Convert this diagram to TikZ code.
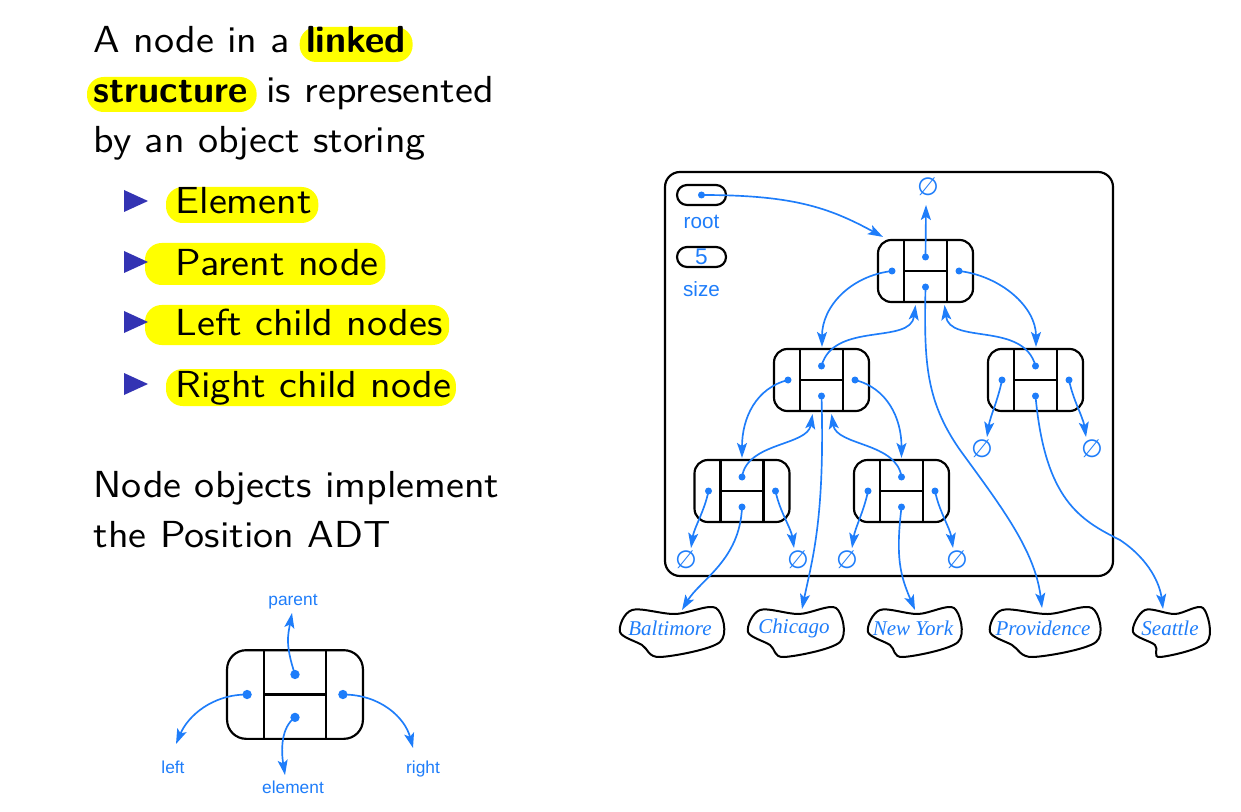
\documentclass[tikz,border=0pt]{standalone}
\usepackage{fontspec}
\usetikzlibrary{arrows.meta,calc,shapes.misc,backgrounds}
\setsansfont{Latin Modern Sans}[FakeStretch=1.09]
\newfontfamily\plainsans{Latin Modern Sans}
\newfontfamily\labelfont{Liberation Sans}
\newfontfamily\cityfont{Liberation Serif}
\newfontfamily\symfont{DejaVu Sans}
\definecolor{linkblue}{RGB}{30,125,250}
\definecolor{itemblue}{RGB}{51,51,179}
\definecolor{hilite}{RGB}{255,255,0}
\newcommand\mainsize{\sffamily\fontsize{11.3}{13.6}\selectfont}
\newcommand\boldsize{\plainsans\bfseries\fontsize{11.3}{13.6}\selectfont}

% one position object: box with parent / element / left / right fields
\newcommand\posbox[4]{% name, x, y, scale
  \begin{scope}[shift={(#2,#3)}, scale=#4]
    \node[boxshape, minimum width=#4*28.5pt, minimum height=#4*18.6pt,
          rounded corners=#4*4pt] (#1) at (0,0) {};
    \draw[boxline] (-21.5,-31) -- (-21.5,31) (21.5,-31) -- (21.5,31)
                   (-21.5,0) -- (21.5,0);
    \coordinate (#1-p) at (0,-14);
    \coordinate (#1-e) at (0,16);
    \coordinate (#1-l) at (-33.5,0);
    \coordinate (#1-r) at (33.5,0);
  \end{scope}}
\newcommand\posdots[2]{% name, dot radius
  \foreach \f in {p,e,l,r} \fill[linkblue] (#1-\f) circle[radius=#2];}

% a city element drawn as a rough blob around its name
\newcommand\city[4]{% name, x, half width, text
  \node[citytext] (#1) at (#2,628) {#4};
  \draw[blob] plot[smooth cycle, tension=0.55] coordinates {
    (#2-#3+12,610) (#2+5,614) (#2+#3-4,608) (#2+#3,642)
    (#2-10,657) (#2-#3+22,645) (#2-#3,632)};}

\begin{document}
\begin{tikzpicture}[x=0.3pt, y=-0.3pt,
  main/.style={anchor=base west, inner sep=0pt, font=\mainsize},
  hl/.style={fill=hilite, rounded corners=5pt},
  boxshape/.style={draw, line width=0.65pt, inner sep=0pt},
  boxline/.style={line width=0.65pt},
  pill/.style={draw, rounded rectangle, line width=0.65pt, inner sep=0pt,
    minimum width=14.7pt, minimum height=6pt, text=linkblue,
    font=\labelfont\fontsize{6.8}{7}\selectfont},
  lbl/.style={text=linkblue, inner sep=0pt, font=\labelfont\fontsize{6.2}{7}\selectfont},
  small/.style={text=linkblue, inner sep=0pt, anchor=base, font=\labelfont\fontsize{5.2}{6}\selectfont},
  nul/.style={text=linkblue, inner sep=0pt, font=\symfont\fontsize{7.5}{8}\selectfont},
  citytext/.style={text=linkblue, inner sep=0pt, font=\cityfont\itshape\fontsize{6.3}{7}\selectfont},
  blob/.style={line width=0.6pt},
  arr/.style={draw=linkblue, line width=0.5pt,
    -{Stealth[length=4.5pt, width=3pt, inset=1pt]}},
  tri/.style={fill=itemblue}]

\useasboundingbox (0,0) rectangle (1241,812);

% ---------- text column ----------
\node[main] (l1a) at (93,53) {A node in a};
\node[main, font=\boldsize] (l1b) at ($(l1a.base east)+(15,0)$) {linked};
\node[main, font=\boldsize] (l2a) at (93,103) {structure};
\node[main] (l2b) at ($(l2a.base east)+(17,0)$) {is represented};
\node[main] (l3) at (93,153) {by an object storing};

\node[main] (i1) at (175,214) {Element};
\node[main] (i2) at (175,275) {Parent node};
\node[main] (i3) at (175,335) {Left child nodes};
\node[main] (i4) at (175,397) {Right child node};

% highlight marks behind the text
\begin{pgfonlayer}{background}
\fill[white] (0,0) rectangle (1241,812);
\fill[hl] ($(l1b.base west)+(-6,-26)$) rectangle ($(l1b.base east)+(6,9)$);
\fill[hl] ($(l2a.base west)+(-6,-26)$) rectangle ($(l2a.base east)+(8,9)$);
\fill[hl] ($(i1.base west)+(-9,-27)$) rectangle ($(i1.base east)+(6,9)$);
\fill[hl] ($(i2.base west)+(-30,-32)$) rectangle ($(i2.base east)+(6,10)$);
\fill[hl] ($(i3.base west)+(-30,-30)$) rectangle ($(i3.base east)+(6,10)$);
\fill[hl] ($(i4.base west)+(-9,-28)$) rectangle ($(i4.base east)+(4,9)$);
\end{pgfonlayer}
\foreach \yy in {201,262,322,384}
  \fill[tri] (124,\yy-11) -- (148,\yy) -- (124,\yy+11) -- cycle;

\node[main] (l4) at (93,497) {Node objects implement};
\node[main] (l5) at (93,547) {the Position ADT};

% ---------- single position object ----------
\posbox{S}{295}{694.5}{1.43}
\node[small] (lp) at (293,605) {parent};
\node[small] (ll) at (173,773) {left};
\node[small] (le) at (293,793) {element};
\node[small] (lr) at (423,773) {right};
\draw[arr] (S-p) .. controls +(-10,-30) and +(-4,22) .. ($(lp.base)+(-1,8)$);
\draw[arr] (S-l) .. controls +(-35,0) and +(12,-28) .. ($(ll.base)+(3,-29)$);
\draw[arr] (S-e) .. controls +(-14,10) and +(-4,-25) .. ($(le.base)+(-8,-18)$);
\draw[arr] (S-r) .. controls +(38,0) and +(-8,-30) .. ($(lr.base)+(-10,-25)$);
\posdots{S}{1.4pt}

% ---------- linked tree ----------
\draw[line width=0.65pt, rounded corners=4.5pt] (665,172) rectangle (1113,576);
\node[pill] (root) at (701.5,195) {};
\node[lbl] at (701.5,222) {root};
\node[pill] (size) at (701.5,257) {5};
\node[lbl] at (701.5,289) {size};

\posbox{A}{925.5}{271}{1}
\posbox{B}{821.5}{380}{1}
\posbox{C}{1035.5}{380}{1}
\posbox{D}{742}{491}{1}
\posbox{E}{901.5}{491}{1}

\node[nul] (z0) at (928,187) {∅};
\node[nul] (zC1) at (982,449) {∅};
\node[nul] (zC2) at (1092,449) {∅};
\node[nul] (zD1) at (686,560) {∅};
\node[nul] (zD2) at (798,560) {∅};
\node[nul] (zE1) at (847,560) {∅};
\node[nul] (zE2) at (957,560) {∅};

\city{balt}{670}{50}{Baltimore}
\city{chic}{794}{46}{Chicago}
\city{newy}{913}{45}{New York}
\city{prov}{1043}{53}{Providence}
\city{seat}{1170}{37}{Seattle}

% root reference and parent links
\draw[arr] (root.center) .. controls +(90,0) and +(-55,-30) .. ($(A.north west)+(6,-2)$);
\draw[arr] (A-p) -- ($(z0.center)+(-2,18)$);
\draw[arr] (B-p) .. controls +(12,-45) and +(-5,40) .. ($(A.south)+(-10,2)$);
\draw[arr] (C-p) .. controls +(-12,-45) and +(5,40) .. ($(A.south)+(19,2)$);
\draw[arr] (D-p) .. controls +(5,-35) and +(-5,32) .. ($(B.south)+(-9,2)$);
\draw[arr] (E-p) .. controls +(-5,-35) and +(5,32) .. ($(B.south)+(10,2)$);

% child links
\draw[arr] (A-l) .. controls +(-42,5) and +(0,-40) .. ($(B.north)+(0.5,-1)$);
\draw[arr] (A-r) .. controls +(42,5) and +(0,-40) .. ($(C.north)+(0.5,-1)$);
\draw[arr] (B-l) .. controls +(-32,8) and +(0,-40) .. ($(D.north)+(0,-1)$);
\draw[arr] (B-r) .. controls +(32,8) and +(0,-40) .. ($(E.north)+(0,-1)$);

% empty children
\draw[arr] (C-l) .. controls +(-4,20) and +(3,-20) .. ($(zC1.center)+(5,-12)$);
\draw[arr] (C-r) .. controls +(4,20) and +(-3,-20) .. ($(zC2.center)+(-6,-12)$);
\draw[arr] (D-l) .. controls +(-4,20) and +(3,-20) .. ($(zD1.center)+(5,-12)$);
\draw[arr] (D-r) .. controls +(4,20) and +(-3,-20) .. ($(zD2.center)+(-4,-12)$);
\draw[arr] (E-l) .. controls +(-4,20) and +(3,-20) .. ($(zE1.center)+(5,-12)$);
\draw[arr] (E-r) .. controls +(4,20) and +(-3,-20) .. ($(zE2.center)+(-4,-12)$);

% element links
\draw[arr] (A-e) .. controls (924,360) and (925,400) .. (960,450)
                 .. controls (1000,505) and (1035,550) .. ($(prov.center)+(-1,-20)$);
\draw[arr] (B-e) .. controls (825,520) and (812,560) .. ($(chic.center)+(8,-19)$);
\draw[arr] (C-e) .. controls (1045,500) and (1080,520) .. (1120,540)
                 .. controls (1150,560) and (1160,585) .. ($(seat.center)+(-7,-19)$);
\draw[arr] (D-e) .. controls (740,560) and (700,580) .. ($(balt.center)+(12,-18)$);
\draw[arr] (E-e) .. controls +(-6,50) and +(-15,-35) .. ($(newy.center)+(2,-18)$);

\foreach \n in {A,B,C,D,E} {\posdots{\n}{1.05pt}}
\fill[linkblue] (root.center) circle[radius=1.05pt];
\end{tikzpicture}
\end{document}
